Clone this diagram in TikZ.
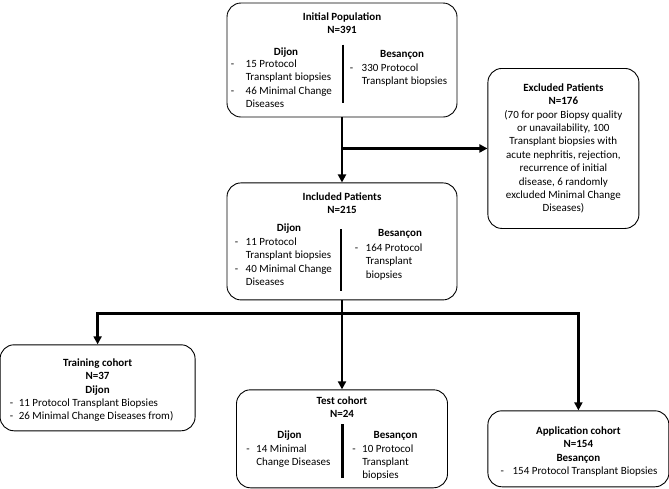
\documentclass[tikz,border=0pt]{standalone}
\usepackage{fontspec}
\setmainfont{Carlito}
\usetikzlibrary{positioning,arrows.meta}
\newcommand{\dashit}[1][11pt]{\makebox[#1][l]{-}}
\newcommand{\contit}[1][11pt]{\hspace*{#1}}

\begin{document}
\begin{tikzpicture}[
    >={Triangle[length=8pt,width=8pt]},
    box/.style={draw, line width=0.9pt, rounded corners=14pt, inner sep=0pt},
    head/.style={font=\fontsize{11}{13.4}\selectfont\bfseries, align=center, inner sep=0pt},
    lst/.style={font=\fontsize{11}{13.4}\selectfont, align=left, inner sep=0pt},
    divider/.style={line width=2.6pt},
    arrow/.style={->, line width=2.6pt},
]
    \useasboundingbox (0pt,0pt) rectangle (669pt,-488pt);

    % Initial population
    \node[box, minimum width=230pt, minimum height=114pt] (init) at (342pt,-60pt) {};
    \node[head, below=10pt of init.north] (inittitle) {Initial Population\\N=391};
    \node[head, below=45pt of init.north, xshift=-56pt] (initdij) {Dijon};
    \node[lst, below right=57pt and 4pt of init.north west] (initdijl)
        {\dashit[15pt]15 Protocol\\\contit[15pt]Transplant biopsies\\\dashit[15pt]46 Minimal Change\\\contit[15pt]Diseases};
    \draw[divider] ([xshift=1pt,yshift=-42pt]init.north) -- ([xshift=1pt,yshift=14pt]init.south);
    \node[head, below=48pt of init.north, xshift=60pt] (initbes) {Besançon};
    \node[lst, below right=61pt and 123pt of init.north west] (initbesl)
        {\dashit[12pt]330 Protocol\\\contit[12pt]Transplant biopsies};

    % Excluded patients
    \node[box, font=\fontsize{11}{13.4}\selectfont, align=center, minimum width=151pt, minimum height=160pt,
          below right=8pt and 30pt of init.east] (excl)
        {\textbf{Excluded Patients}\\\textbf{N=176}\\(70 for poor Biopsy quality\\or unavailability, 100\\Transplant biopsies with\\acute nephritis, rejection,\\recurrence of initial\\disease, 6 randomly\\excluded Minimal Change\\Diseases)};

    % Included patients
    \node[box, minimum width=230pt, minimum height=117pt, below=65pt of init] (incl) {};
    \node[head, below=10pt of incl.north] (incltitle) {Included Patients\\N=215};
    \node[head, below=41pt of incl.north, xshift=-53pt] (incldij) {Dijon};
    \node[lst, below right=55pt and 8pt of incl.north west] (incldijl)
        {\dashit 11 Protocol\\\contit Transplant biopsies\\\dashit 40 Minimal Change\\\contit Diseases};
    \draw[divider] ([xshift=-1pt,yshift=-47pt]incl.north) -- ([xshift=-1pt,yshift=9pt]incl.south);
    \node[head, below=47pt of incl.north, xshift=58pt] (inclbes) {Besançon};
    \node[lst, below right=61pt and 128pt of incl.north west] (inclbesl)
        {\dashit 164 Protocol\\\contit Transplant\\\contit biopsies};

    % Cohorts
    \node[box, minimum width=195pt, minimum height=86pt, below left=44pt and 31pt of incl.south west] (train) {};
    \node[head, below=14pt of train.north] (traintitle) {Training cohort\\N=37\\Dijon};
    \node[lst, below right=54pt and 10pt of train.north west] (trainl)
        {\dashit[9pt]11 Protocol Transplant Biopsies\\\dashit[9pt]26 Minimal Change Diseases from)};

    \node[box, minimum width=211pt, minimum height=98pt, below=89pt of incl] (test) {};
    \node[head, below=7pt of test.north] (testtitle) {Test cohort\\N=24};
    \node[head, below=41pt of test.north, xshift=-52.5pt] (testdij) {Dijon};
    \node[lst, below right=55pt and 10pt of test.north west] (testdijl)
        {\dashit[10pt]14 Minimal\\\contit[10pt]Change Diseases};
    \draw[divider] ([xshift=0.5pt,yshift=-35pt]test.north) -- ([xshift=0.5pt,yshift=10pt]test.south);
    \node[head, below=42pt of test.north, xshift=53.5pt] (testbes) {Besançon};
    \node[lst, below right=55pt and 116pt of test.north west] (testbesl)
        {\dashit[10pt]10 Protocol\\\contit[10pt]Transplant\\\contit[10pt]biopsies};

    \node[box, minimum width=181pt, minimum height=76pt, below right=110pt and 30pt of incl.south east] (app) {};
    \node[head, below=16pt of app.north] (apptitle) {Application cohort\\N=154\\Besançon};
    \node[lst, below right=56pt and 13pt of app.north west] (appl)
        {\dashit[12pt]154 Protocol Transplant Biopsies};

    % Flow
    \coordinate[below=31pt of init.south] (split1);
    \coordinate[below=13pt of incl.south] (split2);
    \draw[arrow] (init) -- (incl);
    \draw[arrow] (split1) -- (excl);
    \draw[arrow] (incl) -- (test);
    \draw[arrow] (split2) -| (train);
    \draw[arrow] (split2) -| (app);

\end{tikzpicture}
\end{document}
